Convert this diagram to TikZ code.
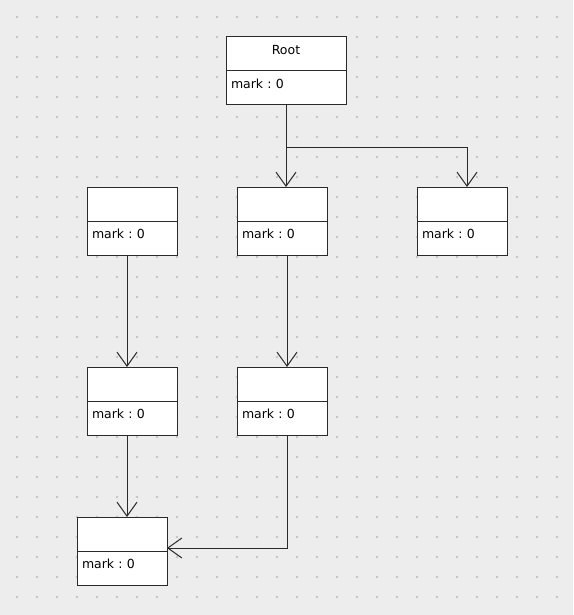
\documentclass[tikz,border=0pt]{standalone}
\usepackage{fontspec}
\setmainfont{DejaVu Sans}
\usetikzlibrary{arrows.meta,positioning,calc}
\definecolor{sheet}{HTML}{EDEDED}
\definecolor{griddot}{HTML}{C4C4C4}
\definecolor{umlline}{HTML}{2A2A2A}
\frenchspacing
\begin{document}
\begin{tikzpicture}[
  x=1pt,y=-1pt,
  classhead/.style={draw=umlline,line width=1pt,fill=white,outer sep=0pt,
    minimum width=90pt,minimum height=34pt,inner sep=0pt,
    font=\fontsize{12.5}{14}\selectfont,text depth=7pt},
  classfield/.style={draw=umlline,line width=1pt,fill=white,outer sep=0pt,
    minimum width=90pt,minimum height=34pt,inner xsep=5pt,inner ysep=0pt,
    text width=80pt,align=left,font=\fontsize{12.5}{14}\selectfont,
    text depth=8pt},
  assoc/.style={-{Straight Barb[length=14pt,width=20pt]},
    draw=umlline,line width=1pt},
  node distance=0pt
]
\useasboundingbox (0,0) rectangle (573,615);
\fill[sheet] (0,0) rectangle (573,615);
\foreach \i in {0,...,28}
  \foreach \j in {0,...,30}
    \fill[griddot] (17+20*\i,17+20*\j) circle (1.4);

% root class
\node[classhead,minimum width=120pt] (rootname) at (286,53.5) {Root};
\node[classfield,minimum width=120pt,text width=110pt,below=of rootname]
  (rootmark) {mark : 0};

% first row
\node[classhead] (aname) at (132,204) {};
\node[classfield,below=of aname] (amark) {mark : 0};
\node[classhead] (bname) at (282,204) {};
\node[classfield,below=of bname] (bmark) {mark : 0};
\node[classhead] (cname) at (462,204) {};
\node[classfield,below=of cname] (cmark) {mark : 0};

% second row
\node[classhead] (dname) at (132,384) {};
\node[classfield,below=of dname] (dmark) {mark : 0};
\node[classhead] (ename) at (282,384) {};
\node[classfield,below=of ename] (emark) {mark : 0};

% bottom
\node[classhead] (fname) at (122,534) {};
\node[classfield,below=of fname] (fmark) {mark : 0};

\coordinate (split) at ($(rootmark.south)+(0,43)$);
\draw[assoc] (rootmark.south) -- (rootmark.south |- bname.north);
\draw[assoc] (split) -| ($(cname.north)+(5,0)$);
\draw[assoc] ($(amark.south)+(-5,0)$) -- ($(dname.north)+(-5,0)$);
\draw[assoc] ($(bmark.south)+(5,0)$) -- ($(ename.north)+(5,0)$);
\draw[assoc] ($(dmark.south)+(-5,0)$) -- ($(fname.north)+(5,0)$);
\draw[assoc] ($(emark.south)+(5,0)$) |- ($(fname.south east)+(0,-3)$);
\end{tikzpicture}
\end{document}
